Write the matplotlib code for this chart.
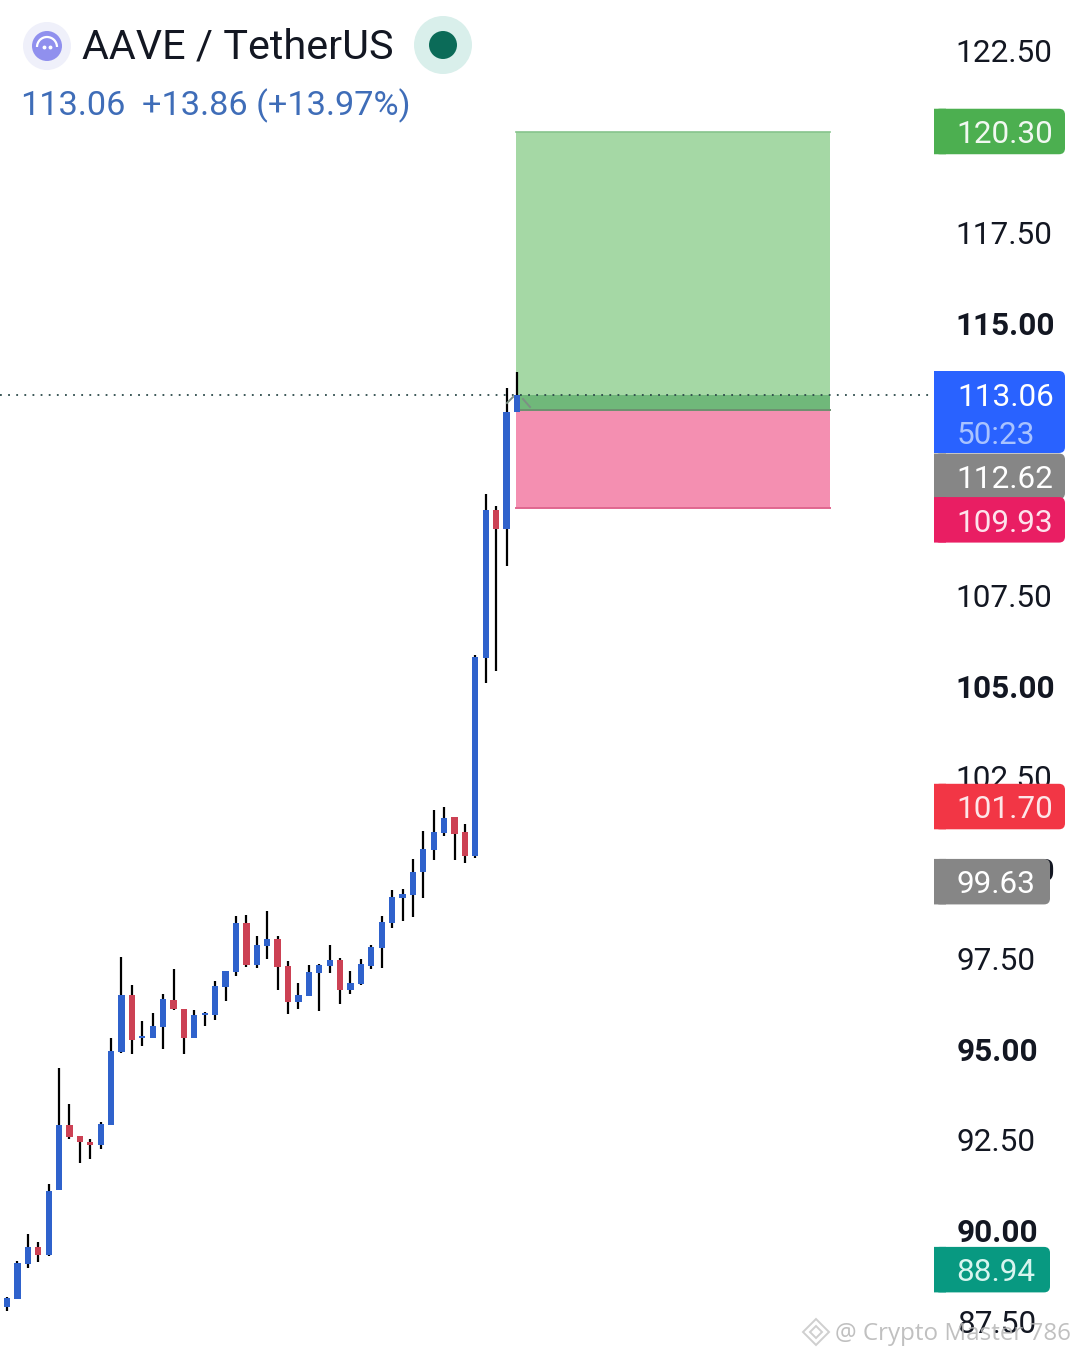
import numpy as np
import matplotlib
matplotlib.use('Agg')
import matplotlib.pyplot as plt
from matplotlib.patches import Circle, Rectangle, FancyBboxPatch, Arc, RegularPolygon
from matplotlib.transforms import ScaledTranslation

plt.rcParams['font.family'] = ['Roboto', 'DejaVu Sans']

# Candles
opens = [87.92, 88.14, 89.10, 89.57, 89.35, 91.15, 92.93, 92.63, 92.46, 92.38,
         92.93, 94.95, 96.52, 95.34, 95.34, 95.64, 96.38, 96.13, 95.34, 95.97,
         95.97, 96.74, 97.15, 98.50, 97.34, 97.87, 98.06, 97.32, 96.33, 96.49,
         97.12, 97.32, 97.48, 96.65, 96.82, 97.32, 97.81, 98.50, 99.19, 99.27,
         99.91, 100.51, 100.98, 101.42, 101.01, 100.35, 105.80, 109.88, 109.35, 112.58]
highs = [88.19, 89.18, 89.93, 89.71, 91.31, 94.50, 93.51, 92.63, 92.55, 93.01,
         95.34, 97.56, 96.79, 95.80, 96.02, 96.54, 97.23, 96.13, 96.10, 96.05,
         96.90, 97.18, 98.69, 98.72, 98.14, 98.83, 98.14, 97.45, 96.85, 97.34,
         97.37, 97.89, 97.54, 97.18, 97.51, 97.89, 98.69, 99.41, 99.43, 100.27,
         101.04, 101.62, 101.70, 101.42, 101.23, 105.88, 110.32, 109.99, 113.24, 113.68]
lows = [87.81, 88.14, 88.99, 89.16, 89.33, 91.15, 92.55, 91.89, 92.00, 92.27,
        92.93, 94.92, 94.89, 95.11, 95.34, 95.03, 96.10, 94.89, 95.34, 95.66,
        95.83, 96.35, 97.04, 97.29, 97.26, 97.51, 96.65, 95.99, 96.13, 96.49,
        96.08, 97.12, 96.27, 96.54, 96.79, 97.23, 97.26, 98.36, 98.55, 98.66,
        99.19, 100.24, 100.90, 100.24, 100.16, 100.29, 105.11, 105.44, 108.33, 112.58]
closes = [88.17, 89.13, 89.57, 89.35, 91.12, 92.93, 92.60, 92.46, 92.38, 92.96,
          94.98, 96.52, 95.28, 95.39, 95.66, 96.41, 96.13, 95.34, 95.97, 96.02,
          96.77, 97.18, 98.50, 97.34, 97.89, 98.06, 97.29, 96.33, 96.52, 97.15,
          97.34, 97.48, 96.65, 96.85, 97.37, 97.84, 98.53, 99.21, 99.30, 99.91,
          100.54, 101.01, 101.39, 100.95, 100.35, 105.83, 109.88, 109.35, 112.58, 113.06]

# Axis ticks
tick_values = [122.5, 120, 117.5, 115, 112.5, 110, 107.5, 105, 102.5, 100, 97.5, 95, 92.5, 90, 87.5]
tick_labels = ['122.50', '120.00', '117.50', '115.00', '112.50', '110.00', '107.50', '105.00',
               '102.50', '100.00', '97.50', '95.00', '92.50', '90.00', '87.50']
bold_ticks = ['120.00', '115.00', '110.00', '105.00', '100.00', '95.00', '90.00']

# Long position tool
take_profit = 120.30
entry = 112.62
stop_loss = 109.93
last_price = 113.06

# Price tags: text, colour, text colour, price the tag is centred on, right edge
tags = [('120.30', '#4caf50', '#f1f8f1', 120.30, 1065),
        ('112.62', '#868686', '#ffffff', 110.80, 1065),
        ('109.93', '#e91e63', '#fde3ec', 109.60, 1065),
        ('101.70', '#f23645', '#fde6e8', 101.70, 1065),
        ('99.63', '#868686', '#ffffff', 99.63, 1050),
        ('88.94', '#089981', '#d8f5ef', 88.94, 1050)]

W, H = 1079, 1357
fig = plt.figure(figsize=(W / 100, H / 100), dpi=100)
fig.patch.set_facecolor('white')

# Main chart, right edge leaves room for the price scale
ax = fig.add_axes([0, 0, 930 / W, 1])
x = np.arange(len(opens))
step = 10.408
ax.set_xlim(-7 / step, (930 - 7) / step)
ax.set_ylim(86.54, 123.93)
for s in ax.spines.values():
    s.set_visible(False)
ax.set_xticks([])
ax.yaxis.tick_right()
ax.set_yticks(tick_values)
ax.set_yticklabels(tick_labels)
ax.tick_params(axis='y', length=0, pad=18, labelsize=22.7, labelcolor='#131722')
for lab in ax.get_yticklabels():
    text = lab.get_text()
    # labels without a leading 1 start 2px further right, 100.00 sits 2px lower
    dx = 0 if text.startswith('1') else 2
    dy = -1 if text == '100.00' else 1
    lab.set_transform(lab.get_transform() + ScaledTranslation(dx / 100, dy / 100, fig.dpi_scale_trans))
    if text in bold_ticks:
        lab.set_fontweight('bold')

# Position boxes
box_left, box_right = 48.9, 79.07
ax.fill_between([box_left, box_right], entry, take_profit, color='#a5d8a5', lw=0, zorder=1)
ax.fill_between([box_left, box_right], entry, last_price, color='#70b87a', lw=0, zorder=1.1)
ax.fill_between([box_left, box_right], stop_loss, entry, color='#f48fb1', lw=0, zorder=1)
ax.plot([box_left, box_right], [take_profit, take_profit], color='#86c48c', lw=1.2, zorder=1.2)
ax.plot([box_left, box_right], [entry, entry], color='#6d9070', lw=1.4, zorder=1.2)
ax.plot([box_left, box_right], [stop_loss, stop_loss], color='#e0668f', lw=1.4, zorder=1.2)

# Last price line
ax.axhline(last_price, color='#2c4a4a', lw=1.3, ls=(0, (1, 3.5)), zorder=1.3)

# Candles
colors = ['#2f62cc' if c >= o else '#cc4154' for o, c in zip(opens, closes)]
bottoms = np.minimum(opens, closes)
heights = np.abs(np.array(closes) - np.array(opens))
ax.vlines(x, lows, highs, color='black', lw=1.6, zorder=3)
ax.bar(x, heights, bottom=bottoms, width=0.6, color=colors, lw=0, zorder=4)

# Overlay in image pixels for tags, header and watermark
ov = fig.add_axes([0, 0, 1, 1], facecolor='none')
ov.set_xlim(0, W)
ov.set_ylim(H, 0)
ov.axis('off')


def price_y(price):
    return H - ax.transData.transform((0, price))[1]


def tag_box(top, bottom, right, color):
    ov.add_patch(FancyBboxPatch((934 + 6, top + 6), right - 934 - 12, bottom - top - 12,
                                boxstyle='round,pad=6,rounding_size=6', fc=color, ec='none'))
    ov.add_patch(Rectangle((934, top), 12, bottom - top, fc=color, ec='none', snap=False))


# Small arrow behind the last candle
ov.plot([507, 513], [403, 397], color='#7d8f85', lw=1.4)
ov.plot([523, 530], [399, 407], color='#7d8f85', lw=1.4)

tag_box(371, 453, 1065, '#2962ff')
ov.text(957, 398, '113.06', color='white', fontsize=22.7, va='center')
ov.text(957, 435, '50:23', color='#a9c3ff', fontsize=22.7, va='center')

for text, fc, tc, price, right in tags:
    yc = price_y(price)
    tag_box(yc - 23, yc + 22.5, right, fc)
    ov.text(956.5, yc + 3, text, color=tc, fontsize=22.7, va='center')

# Header
ov.add_patch(Circle((47, 46), 24, fc='#eff0fa', ec='none'))
ov.add_patch(Circle((47, 46), 15, fc='#9090ee', ec='none'))
ov.add_patch(Arc((47, 47), 20, 20, theta1=180, theta2=360, color='white', lw=1.6))
ov.plot([44, 50], [47, 47], ls='none', marker='o', ms=1.8, color='white')
ov.text(81.5, 47, 'AAVE / TetherUS', color='#131722', fontsize=29.8, va='center')
ov.add_patch(Circle((443, 45), 29, fc='#d9efeb', ec='none'))
ov.add_patch(Circle((443, 45), 14, fc='#0b6b58', ec='none'))
ov.text(20.5, 106, '113.06', color='#3f6db8', fontsize=24.7, va='center')
ov.text(141.5, 106, '+13.86 (+13.97%)', color='#3f6db8', fontsize=24.7, va='center')

# Watermark
ov.text(835, 1334, '@ Crypto Master 786', color='#b5b5b5', alpha=0.85, fontsize=17.4,
        family='Open Sans', va='center')
ov.add_patch(RegularPolygon((816, 1332), 4, radius=13, fc='none', ec='#cfcfcf', lw=1.4))
ov.add_patch(RegularPolygon((816, 1332), 4, radius=6, fc='none', ec='#cfcfcf', lw=1.4))

fig.savefig('out.png', dpi=100)
